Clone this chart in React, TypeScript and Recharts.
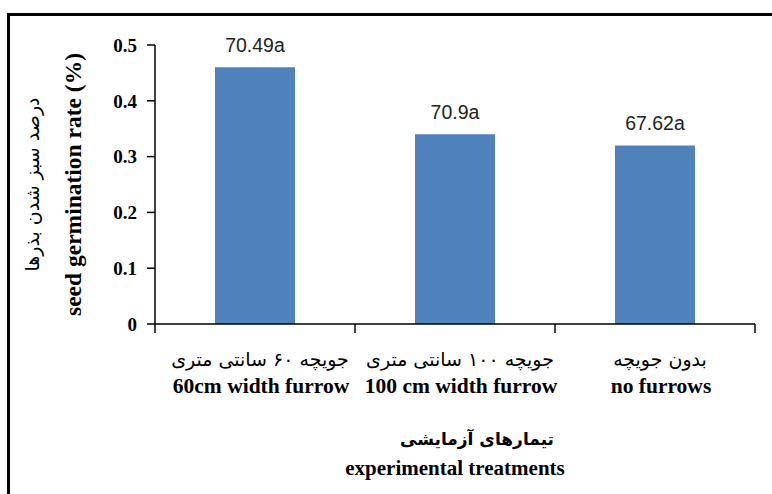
import React from "react";
import { BarChart, Bar, XAxis, YAxis, LabelList, Label } from "recharts";

const categoriesEn = ["60cm width furrow", "100 cm width furrow", "no furrows"];
const categoriesFa = ["جویچه ۶۰ سانتی متری", "جویچه ۱۰۰ سانتی متری", "بدون جویچه"];
const values = [0.46, 0.34, 0.32];
const valueLabels = ["70.49a", "70.9a", "67.62a"];
const yTicks = [0, 0.1, 0.2, 0.3, 0.4, 0.5];

const yTitleFa = "درصد سبز شدن بذرها";
const yTitleEn = "seed germination rate (%)";
const xTitleFa = "تیمارهای آزمایشی";
const xTitleEn = "experimental treatments";

const data = categoriesEn.map((name, i) => ({
  name,
  fa: categoriesFa[i],
  value: values[i],
  label: valueLabels[i],
}));

const SERIF = "'Liberation Serif', 'Times New Roman', serif";
const SANS = "'Liberation Sans', Arial, sans-serif";
const FA = "'DejaVu Sans', sans-serif";

const XTick = (props: any) => {
  const { x, y, payload, index } = props;
  const off = payload && typeof payload.offset === "number" && payload.offset > 0 ? payload.offset : 100;
  return (
    <g>
      <line x1={x - off} y1={y} x2={x - off} y2={y + 9} stroke="#000" strokeWidth={1.5} />
      {index === data.length - 1 && (
        <line x1={x + off} y1={y} x2={x + off} y2={y + 9} stroke="#000" strokeWidth={1.5} />
      )}
      <text x={x + 5} y={y + 42} textAnchor="middle" fontFamily={FA} fontSize={19} fill="#000">
        {data[index] ? data[index].fa : ""}
      </text>
      <text x={x + 6} y={y + 69} textAnchor="middle" fontFamily={SERIF} fontWeight="bold" fontSize={21.5} fill="#000">
        {payload.value}
      </text>
    </g>
  );
};

const ValueLabel = (props: any) => {
  const { x, y, width, index } = props;
  return (
    <text x={x + width / 2} y={y - 15} textAnchor="middle" fontFamily={SANS} fontSize={19.5} fill="#222">
      {valueLabels[index]}
    </text>
  );
};

const YTitle = (props: any) => {
  const vb = props.viewBox || { x: 95, y: 45, width: 60, height: 279 };
  const cy = vb.y + vb.height / 2;
  const xe = vb.x - 14;
  const xf = vb.x - 56;
  return (
    <g>
      <text x={xf} y={cy} transform={`rotate(-90 ${xf} ${cy})`} textAnchor="middle" fontFamily={FA} fontSize={19} fill="#000">
        {yTitleFa}
      </text>
      <text x={xe} y={cy} transform={`rotate(-90 ${xe} ${cy})`} textAnchor="middle" fontFamily={SERIF} fontWeight="bold" fontSize={23.5} fill="#000">
        {yTitleEn}
      </text>
    </g>
  );
};

const XTitle = (props: any) => {
  const vb = props.viewBox || { x: 155, y: 324, width: 600, height: 60 };
  const cx = vb.x + vb.width / 2;
  return (
    <g>
      <text x={cx + 22} y={vb.y + 121} textAnchor="middle" fontFamily={FA} fontWeight="bold" fontSize={17} fill="#000">
        {xTitleFa}
      </text>
      <text x={cx} y={vb.y + 151} textAnchor="middle" fontFamily={SERIF} fontWeight="bold" fontSize={21} fill="#000">
        {xTitleEn}
      </text>
    </g>
  );
};

export default function App() {
  return (
    <div style={{ position: "absolute", left: 0, top: 0, width: 772, height: 494, background: "#fff", overflow: "hidden" }}>
      <div
        style={{
          position: "absolute",
          left: 7,
          top: 13,
          width: 820,
          height: 520,
          borderLeft: "3px solid #000",
          borderTop: "3px solid #000",
          boxSizing: "border-box",
        }}
      />
      <div style={{ position: "absolute", left: 0, top: 0 }}>
        <BarChart
          width={772}
          height={494}
          data={data}
          margin={{ top: 45, right: 17, left: 95, bottom: 110 }}
          barCategoryGap="30%"
        >
          <XAxis
            dataKey="name"
            type="category"
            height={60}
            tickLine={false}
            tickSize={0}
            tickMargin={0}
            axisLine={{ stroke: "#000", strokeWidth: 1.5 }}
            tick={<XTick />}
            interval={0}
          >
            <Label content={<XTitle />} />
          </XAxis>
          <YAxis
            type="number"
            domain={[0, 0.5]}
            ticks={yTicks}
            width={60}
            tickSize={8}
            tickMargin={10}
            axisLine={{ stroke: "#000", strokeWidth: 1.5 }}
            tickLine={{ stroke: "#000", strokeWidth: 1.5 }}
            tick={{ fontFamily: SERIF, fontWeight: "bold", fontSize: 19, fill: "#000" }}
            tickFormatter={(v: number) => (v === 0 ? "0" : v.toFixed(1))}
            interval={0}
          >
            <Label content={<YTitle />} />
          </YAxis>
          <Bar dataKey="value" fill="#4F81BD" isAnimationActive={false}>
            <LabelList dataKey="label" content={<ValueLabel />} />
          </Bar>
        </BarChart>
      </div>
    </div>
  );
}
